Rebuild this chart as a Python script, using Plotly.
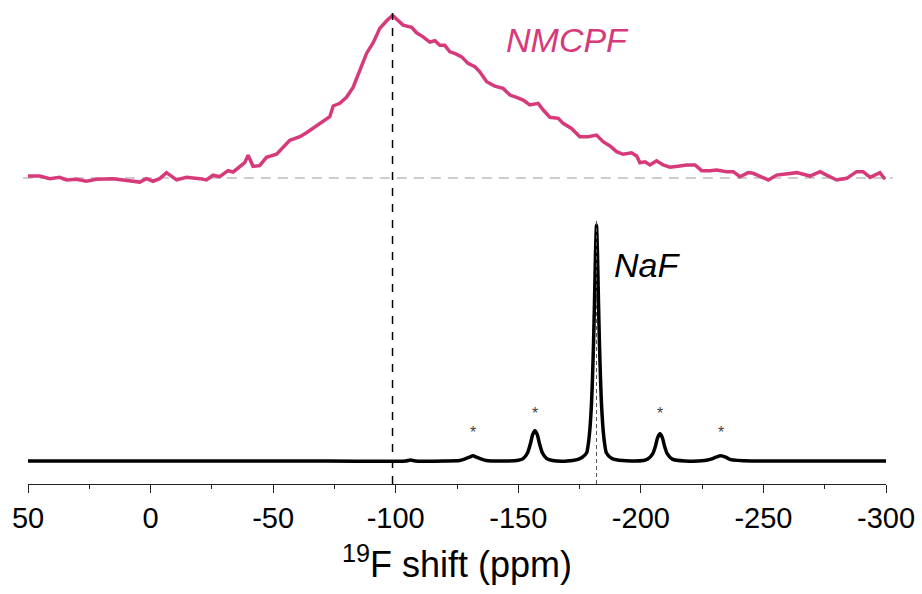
import plotly.graph_objects as go

# ---------------- data ----------------
# NMCPF 19F spectrum: chemical shift (ppm) and normalised intensity (peak = 1)
nmcpf_ppm = [50.0, 45.2, 41.1, 37.1, 34.3, 30.2, 26.2, 22.1, 15.3, 9.8, 4.4, 1.7, -1.0, -3.7,
             -6.5, -10.6, -14.6, -20.1, -22.8, -25.5, -28.2, -31.6, -33.7, -38.4, -39.8, -41.8,
             -44.5, -47.3, -51.4, -56.8, -60.9, -63.6, -67.7, -71.8, -73.1, -74.5, -77.2, -79.9,
             -82.6, -85.4, -88.1, -90.8, -93.5, -96.3, -98.7, -103.0, -106.5, -108.5, -111.2,
             -113.9, -116.0, -118.0, -120.0, -122.1, -124.1, -126.9, -129.5, -132.3, -134.3,
             -137.1, -140.4, -143.8, -146.6, -149.3, -152.0, -154.7, -158.1, -160.2, -162.9,
             -166.3, -168.3, -171.7, -175.1, -178.5, -181.9, -184.6, -187.4, -190.1, -192.8,
             -196.2, -198.3, -199.6, -201.7, -203.7, -206.4, -209.1, -211.9, -215.9, -218.7,
             -222.1, -224.8, -228.2, -230.9, -235.0, -237.7, -240.4, -243.8, -245.8, -249.3,
             -252.0, -255.4, -259.5, -263.6, -269.0, -273.1, -275.8, -279.9, -284.0, -288.0,
             -290.7, -293.5, -297.5, -299.6]
nmcpf_int = [0.012, 0.012, -0.004, 0.004, -0.012, -0.008, -0.020, -0.008, -0.004, -0.012,
             -0.025, -0.004, -0.020, -0.004, 0.033, -0.012, 0.004, -0.004, -0.012, 0.017, 0.008,
             0.045, 0.037, 0.094, 0.140, 0.072, 0.076, 0.127, 0.146, 0.232, 0.254, 0.278, 0.320,
             0.367, 0.377, 0.443, 0.459, 0.496, 0.557, 0.664, 0.766, 0.832, 0.920, 0.967, 1.000,
             0.940, 0.926, 0.893, 0.868, 0.836, 0.844, 0.816, 0.816, 0.776, 0.766, 0.745, 0.705,
             0.684, 0.653, 0.592, 0.565, 0.551, 0.510, 0.496, 0.479, 0.449, 0.459, 0.418, 0.373,
             0.367, 0.336, 0.305, 0.254, 0.254, 0.264, 0.223, 0.197, 0.162, 0.146, 0.155, 0.135,
             0.094, 0.100, 0.080, 0.106, 0.080, 0.066, 0.074, 0.080, 0.080, 0.045, 0.045, 0.049,
             0.039, 0.039, 0.008, 0.033, 0.029, 0.008, -0.012, 0.018, 0.025, 0.033, 0.012, 0.039,
             0.018, -0.012, -0.002, 0.039, 0.039, 0.004, 0.033, -0.008]

# NaF 19F spectrum: centre band at -181.9 ppm with spinning sidebands
naf_ppm = [50.0, 0.0, -60.0, -104.0, -106.0, -108.0, -120.0, -126.0, -128.0, -130.0, -131.5,
           -133.0, -135.0, -137.0, -145.0, -150.0, -152.0, -153.8, -155.0, -155.8, -156.8,
           -157.8, -158.6, -159.8, -161.6, -164.0, -170.0, -174.0, -176.0, -177.9, -178.4,
           -178.9, -179.4, -179.9, -180.3, -180.7, -181.1, -181.5, -181.9, -182.3, -182.7,
           -183.1, -183.5, -183.9, -184.4, -184.9, -185.4, -185.9, -188.0, -190.0, -196.0,
           -201.0, -202.8, -204.8, -206.0, -206.8, -207.8, -208.8, -209.6, -210.8, -212.8,
           -218.0, -226.0, -228.6, -230.6, -232.6, -234.6, -236.6, -245.0, -270.0, -300.0]
naf_int = [0.000, 0.000, 0.000, 0.000, 0.004, 0.000, 0.000, 0.002, 0.008, 0.016, 0.022,
           0.016, 0.008, 0.002, 0.000, 0.003, 0.010, 0.035, 0.075, 0.110, 0.128,
           0.110, 0.075, 0.035, 0.010, 0.002, 0.000, 0.006, 0.015, 0.035, 0.060,
           0.100, 0.160, 0.250, 0.360, 0.500, 0.680, 0.880, 1.000, 0.880, 0.680,
           0.500, 0.360, 0.250, 0.160, 0.100, 0.060, 0.035, 0.012, 0.005, 0.000,
           0.002, 0.008, 0.030, 0.065, 0.098, 0.115, 0.098, 0.065, 0.030, 0.008,
           0.000, 0.002, 0.008, 0.016, 0.022, 0.016, 0.006, 0.000, 0.000, 0.000]

sideband_ppm = [-131.5, -156.8, -207.8, -232.6]
sideband_mark_y = [0.119, 0.203, 0.203, 0.119]

nmcpf_peak_ppm = -98.7
naf_peak_ppm = -181.9

x_ticks = [50, 0, -50, -100, -150, -200, -250, -300]

# ---------------- styling constants ----------------
PINK = "#d63a7a"
FONT = "Liberation Sans, Arial, sans-serif"
NMCPF_OFFSET = 1.199
NMCPF_SCALE = 0.689
Y_RANGE = [-0.0975, 1.932]

fig = go.Figure()

# NaF spectrum
fig.add_trace(go.Scatter(x=naf_ppm, y=naf_int, mode="lines",
                         line=dict(color="black", width=3.5, shape="spline", smoothing=0.6),
                         showlegend=False, hoverinfo="skip"))

# NMCPF spectrum (stacked above)
fig.add_trace(go.Scatter(x=nmcpf_ppm,
                         y=[NMCPF_OFFSET + NMCPF_SCALE * v for v in nmcpf_int],
                         mode="lines", line=dict(color=PINK, width=3.5),
                         showlegend=False, hoverinfo="skip"))

# horizontal baseline of NMCPF
fig.add_shape(type="line", xref="paper", yref="y", x0=-0.006, x1=1.008,
              y0=NMCPF_OFFSET, y1=NMCPF_OFFSET,
              line=dict(color="#bdbdbd", width=1.5, dash="10px,7px"), layer="below")

# vertical guide lines
fig.add_shape(type="line", xref="x", yref="y", x0=nmcpf_peak_ppm, x1=nmcpf_peak_ppm,
              y0=Y_RANGE[0], y1=1.898,
              line=dict(color="black", width=1.5, dash="8px,8px"))
fig.add_shape(type="line", xref="x", yref="y", x0=naf_peak_ppm, x1=naf_peak_ppm,
              y0=Y_RANGE[0], y1=1.02,
              line=dict(color="#555555", width=1, dash="4px,3px"))

# sideband asterisks
for px, py in zip(sideband_ppm, sideband_mark_y):
    fig.add_annotation(x=px, y=py, text="*", showarrow=False,
                       font=dict(family=FONT, size=16, color="#444444"))

# sample labels
fig.add_annotation(x=-170.2, y=1.784, text="<i>NMCPF</i>", showarrow=False,
                   font=dict(family=FONT, size=34, color=PINK))
fig.add_annotation(x=-202.5, y=0.83, text="<i>NaF</i>", showarrow=False,
                   font=dict(family=FONT, size=34, color="black"))

fig.update_xaxes(range=[50, -300], tickvals=x_ticks, ticktext=[str(t) for t in x_ticks],
                 ticks="outside", ticklen=8, tickwidth=1.3, tickcolor="#222222",
                 showline=True, linecolor="#222222", linewidth=1.3,
                 minor=dict(dtick=25, tick0=0, ticks="outside", ticklen=4, tickwidth=1.3,
                            tickcolor="#222222"),
                 showgrid=False, zeroline=False,
                 tickfont=dict(family=FONT, size=29, color="black"),
                 title=dict(text="<sup>19</sup>F shift (ppm)", standoff=18,
                            font=dict(family=FONT, size=36, color="black")))
fig.update_yaxes(visible=False, range=Y_RANGE, showgrid=False, zeroline=False)

fig.update_layout(width=922, height=594, plot_bgcolor="white", paper_bgcolor="white",
                  margin=dict(l=28, r=36, t=5, b=110), showlegend=False)

fig.write_html("out.html")
